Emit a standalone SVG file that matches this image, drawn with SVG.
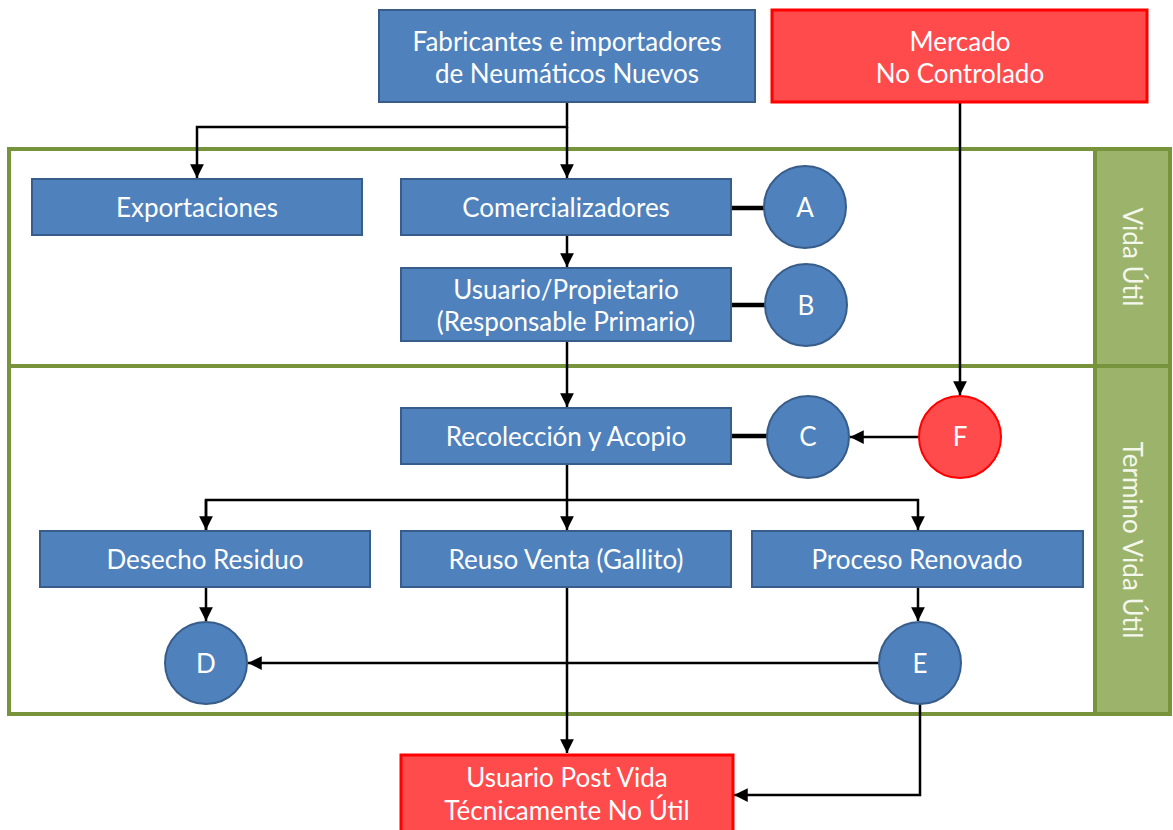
<svg xmlns="http://www.w3.org/2000/svg" width="1173" height="830" viewBox="0 0 1173 830">
  <defs>
    <marker id="arrow" viewBox="0 0 10 10" refX="10" refY="5" markerWidth="5.5" markerHeight="5.5" orient="auto" markerUnits="strokeWidth">
      <path d="M0,0 L10,5 L0,10 z" fill="#000"/>
    </marker>
    <style>
      .box { fill: #4F81BD; stroke: #385D8A; stroke-width: 2; }
      .red { fill: #FF4B4B; stroke: #FF0000; stroke-width: 3; }
      .circ { fill: #4F81BD; stroke: #385D8A; stroke-width: 2; }
      .circ-red { fill: #FF4B4B; stroke: #FF0000; stroke-width: 2; }
      .lbl { font-family: Lato, "Open Sans", "Liberation Sans", sans-serif; font-size: 26px; fill: #FFFFFF; text-anchor: middle; dominant-baseline: central; }
      .side { fill: #F4F7EC; }
      .frame { fill: #FFFFFF; stroke: #77933C; stroke-width: 4; }
      .band { fill: #9BB36A; stroke: #77933C; stroke-width: 4; }
      .link { fill: none; stroke: #000; stroke-width: 2.5; }
      .tie { fill: none; stroke: #000; stroke-width: 4.5; }
    </style>
  </defs>

  <rect width="1173" height="830" fill="#FFFFFF"/>

  <!-- lifecycle stage frames -->
  <g id="stage-vida-util">
    <rect class="frame" x="9" y="149" width="1161" height="217"/>
    <rect class="band" x="1095" y="149" width="75" height="217"/>
    <text class="lbl side" transform="translate(1133,257) rotate(90)">Vida Útil</text>
  </g>
  <g id="stage-termino">
    <rect class="frame" x="9" y="366" width="1161" height="348"/>
    <rect class="band" x="1095" y="366" width="75" height="348"/>
    <text class="lbl side" transform="translate(1133,540) rotate(90)">Termino Vida Útil</text>
  </g>

  <!-- connectors -->
  <g id="connectors">
    <path class="link" d="M567,102 V127 H197 V178" marker-end="url(#arrow)"/>
    <path class="link" d="M567,127 V178" marker-end="url(#arrow)"/>
    <path class="link" d="M567,235 V267" marker-end="url(#arrow)"/>
    <path class="link" d="M567,341 V407" marker-end="url(#arrow)"/>
    <path class="link" d="M960,102 V395" marker-end="url(#arrow)"/>
    <path class="link" d="M919,437 H850" marker-end="url(#arrow)"/>
    <path class="link" d="M567,464 V530" marker-end="url(#arrow)"/>
    <path class="link" d="M206,530 V500 H918 V530" marker-end="url(#arrow)"/>
    <path class="link" d="M206,500 V530" marker-end="url(#arrow)"/>
    <path class="link" d="M206,587 V621" marker-end="url(#arrow)"/>
    <path class="link" d="M918,587 V621" marker-end="url(#arrow)"/>
    <path class="link" d="M879,663 H248" marker-end="url(#arrow)"/>
    <path class="link" d="M567,587 V753" marker-end="url(#arrow)"/>
    <path class="link" d="M920,704 V795 H734" marker-end="url(#arrow)"/>
    <path class="tie" d="M731,208 H764"/>
    <path class="tie" d="M731,305 H765"/>
    <path class="tie" d="M731,436 H767"/>
  </g>

  <g id="fabricantes">
    <rect class="box" x="379" y="10" width="376" height="92"/>
    <text class="lbl" x="567" y="41">Fabricantes e importadores</text>
    <text class="lbl" x="567" y="73">de Neumáticos Nuevos</text>
  </g>
  <g id="mercado">
    <rect class="red" x="772" y="10" width="375" height="92"/>
    <text class="lbl" x="960" y="41">Mercado</text>
    <text class="lbl" x="960" y="73">No Controlado</text>
  </g>
  <g id="exportaciones">
    <rect class="box" x="32" y="179" width="330" height="56"/>
    <text class="lbl" x="197" y="207">Exportaciones</text>
  </g>
  <g id="comercializadores">
    <rect class="box" x="401" y="179" width="330" height="56"/>
    <text class="lbl" x="566" y="207">Comercializadores</text>
  </g>
  <g id="node-a">
    <circle class="circ" cx="805" cy="207" r="41"/>
    <text class="lbl" x="805" y="207">A</text>
  </g>
  <g id="usuario">
    <rect class="box" x="401" y="268" width="330" height="73"/>
    <text class="lbl" x="566" y="289">Usuario/Propietario</text>
    <text class="lbl" x="566" y="321">(Responsable Primario)</text>
  </g>
  <g id="node-b">
    <circle class="circ" cx="806" cy="305" r="41"/>
    <text class="lbl" x="806" y="305">B</text>
  </g>
  <g id="recoleccion">
    <rect class="box" x="401" y="408" width="330" height="56"/>
    <text class="lbl" x="566" y="436">Recolección y Acopio</text>
  </g>
  <g id="node-c">
    <circle class="circ" cx="808" cy="437" r="41"/>
    <text class="lbl" x="808" y="436">C</text>
  </g>
  <g id="node-f">
    <circle class="circ-red" cx="960" cy="437" r="41"/>
    <text class="lbl" x="960" y="436">F</text>
  </g>
  <g id="desecho">
    <rect class="box" x="40" y="531" width="330" height="56"/>
    <text class="lbl" x="205" y="559">Desecho Residuo</text>
  </g>
  <g id="reuso">
    <rect class="box" x="401" y="531" width="330" height="56"/>
    <text class="lbl" x="566" y="559">Reuso Venta (Gallito)</text>
  </g>
  <g id="proceso">
    <rect class="box" x="752" y="531" width="331" height="56"/>
    <text class="lbl" x="917" y="559">Proceso Renovado</text>
  </g>
  <g id="node-d">
    <circle class="circ" cx="206" cy="663" r="41"/>
    <text class="lbl" x="206" y="663">D</text>
  </g>
  <g id="node-e">
    <circle class="circ" cx="920" cy="663" r="41"/>
    <text class="lbl" x="920" y="663">E</text>
  </g>
  <g id="usuario-post">
    <rect class="red" x="401" y="755" width="332" height="80"/>
    <text class="lbl" x="567" y="777">Usuario Post Vida</text>
    <text class="lbl" x="567" y="810">Técnicamente No Útil</text>
  </g>
</svg>
